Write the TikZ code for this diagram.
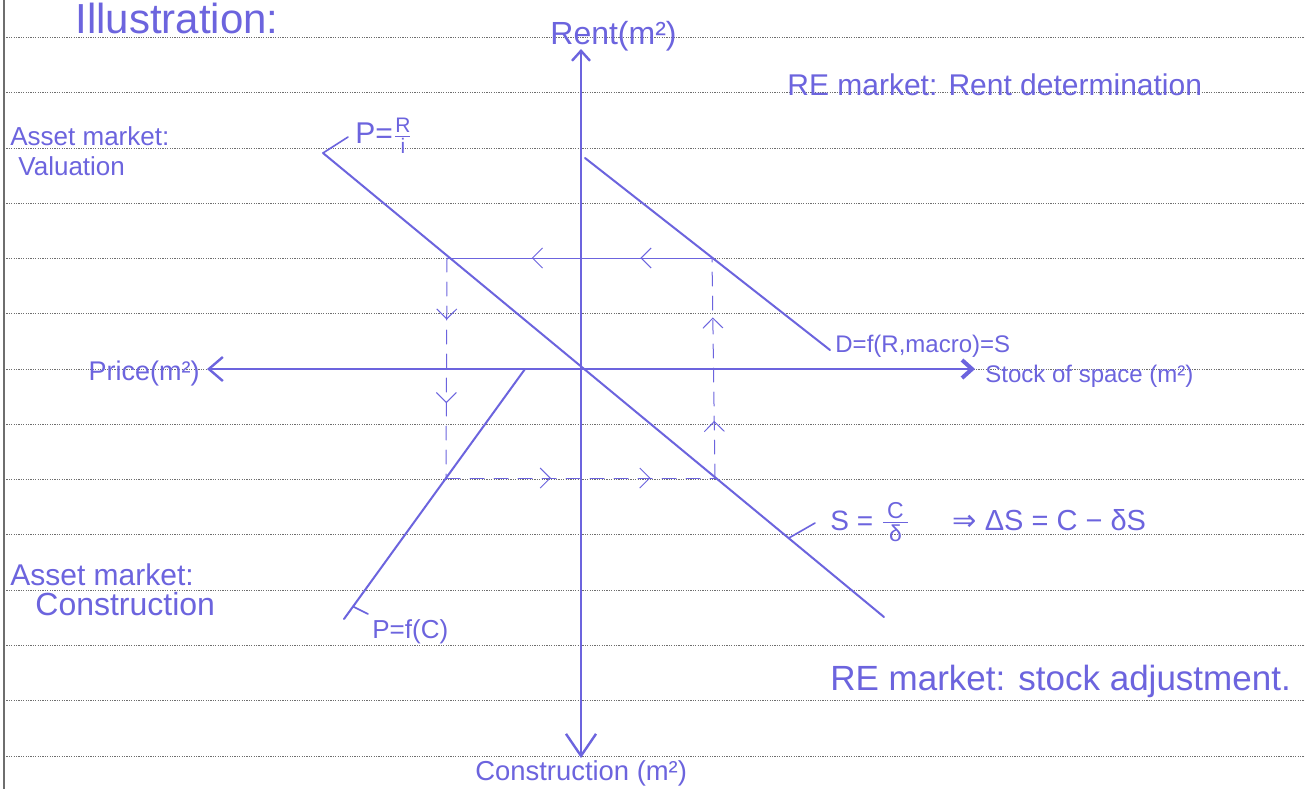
\documentclass[tikz,border=0pt]{standalone}
\usepackage{fontspec}
\usepackage{amsmath}
\setmainfont{Liberation Sans}
\newfontfamily\dejavu{DejaVu Sans}
\usetikzlibrary{arrows.meta,decorations.markings,calc}
\definecolor{ink}{RGB}{108,100,222}
\definecolor{ruled}{RGB}{110,110,110}
\begin{document}
\begin{tikzpicture}[x=0.5pt,y=-0.5pt,
  inkline/.style={draw=ink, line cap=round, line join=round},
  axisline/.style={inkline, line width=1.2pt},
  curveline/.style={inkline, line width=1pt},
  tickline/.style={inkline, line width=0.8pt},
  guidesolid/.style={inkline, line width=0.5pt},
  guidedash/.style={inkline, line width=0.5pt, dash pattern=on 7pt off 5pt},
  lbl/.style={text=ink, inner sep=0pt, anchor=base west},
  ruleline/.style={draw=ruled, line width=0.45pt, dash pattern=on 0.6pt off 0.6pt},
  smallbarb/.tip={Straight Barb[length=5pt,width=10pt]}
]
\useasboundingbox (0,0) rectangle (1305,789);
\fill[white] (0,0) rectangle (1305,789);
% ruled paper
\foreach \yy in {37,92,148,203,258,313,369,424,479,534,590,645,700,756}
  \draw[ruleline] (4,\yy) -- (1305,\yy);
\draw[ruled, line width=0.9pt] (4,0) -- (4,789);

% axes
\coordinate (O) at (581,369);
\coordinate (ytop) at (581,49);
\coordinate (ybot) at (581,758);
\coordinate (xleft) at (207,369);
\coordinate (xright) at (975,369);
\draw[axisline, {Straight Barb[length=11pt,width=15pt]}-{Straight Barb[length=5pt,width=9pt]}] (ybot) -- (ytop);
\draw[axisline, {Straight Barb[length=7pt,width=12pt]}-{Straight Barb[length=5pt,width=9pt,line width=2pt]}] (xleft) -- (xright);

% curves
\coordinate (v1) at (323,153);
\coordinate (v2) at (884,617);
\coordinate (d1) at (585,158);
\coordinate (d2) at (830,350);
\coordinate (c1) at (525,369);
\coordinate (c2) at (344,619);
\draw[curveline] (v1) -- (v2);
\draw[curveline] (d1) -- (d2);
\draw[curveline] (c1) -- (c2);

% dashed cycle
\coordinate (TL) at (447,258);
\coordinate (TR) at (712,258);
\coordinate (BR) at (715,478);
\coordinate (BL) at (446,478);
\draw[guidesolid, postaction={decorate}, decoration={markings,
  mark=at position 0.27 with {\arrow{smallbarb}},
  mark=at position 0.68 with {\arrow{smallbarb}}}] (TR) -- (TL);
\draw[guidedash, postaction={decorate}, decoration={markings,
  mark=at position 0.28 with {\arrow{smallbarb}},
  mark=at position 0.66 with {\arrow{smallbarb}}}] (TL) -- (BL);
\draw[guidedash, postaction={decorate}, decoration={markings,
  mark=at position 0.39 with {\arrow{smallbarb}},
  mark=at position 0.76 with {\arrow{smallbarb}}}] (BL) -- (BR);
\draw[guidedash, postaction={decorate}, decoration={markings,
  mark=at position 0.26 with {\arrow{smallbarb}},
  mark=at position 0.73 with {\arrow{smallbarb}}}] (BR) -- (TR);

% labels
\node[lbl, font=\fontsize{21}{24}\selectfont] (illu) at (75,33) {Illustration:};
\node[lbl, font=\fontsize{16}{18}\selectfont] (rent) at (550,44) {Rent(m²)};
\node[lbl, font=\fontsize{15}{18}\selectfont] (rerent) at (787,95) {RE market: Rent determination};
\node[lbl, font=\fontsize{13}{15}\selectfont] (amv1) at (10,145) {Asset market:};
\node[lbl, font=\fontsize{13}{15}\selectfont] (amv2) at (18,175) {Valuation};
\node[text=ink, inner sep=0pt, anchor=west, font=\fontsize{15}{18}\selectfont] (pri) at (355,136) {P=$\frac{\text{R}}{\text{i}}$};
\node[text=ink, inner sep=0pt, anchor=base east, font=\fontsize{13.5}{16}\selectfont] (price) at (200,380) {Price(m²)};
\node[lbl, font=\fontsize{12}{14}\selectfont] (dem) at (835,352) {D=f(R,macro)=S};
\node[lbl, font=\fontsize{12}{14}\selectfont] (stock) at (985,382) {Stock of space (m²)};
\node[lbl, font=\fontsize{14}{16}\selectfont] (sc) at (830,530) {S = $\frac{\text{\fontsize{11.5}{13}\selectfont\,C\,}}{\text{\fontsize{11.5}{13}\selectfont δ}}$};
\node[lbl, font=\fontsize{14.5}{16}\selectfont] (dsc) at (952,530) {{\dejavu ⇒} ΔS = C − δS};
\node[lbl, font=\fontsize{15}{18}\selectfont] (amc1) at (10,585) {Asset market:};
\node[lbl, font=\fontsize{16}{18}\selectfont] (amc2) at (35,615) {Construction};
\node[lbl, font=\fontsize{13}{15}\selectfont] (pfc) at (372,638) {P=f(C)};
\node[lbl, font=\fontsize{17.5}{20}\selectfont] (restock) at (830,690) {RE market: stock adjustment.};
\node[lbl, font=\fontsize{13.7}{16}\selectfont] (constr) at (475,780) {Construction (m²)};

% label ticks
\coordinate (vtick) at (348,137);
\coordinate (sctick) at (815,523);
\coordinate (pctick) at (368,614);
\draw[tickline] (v1) -- (vtick);
\draw[tickline] ($(v1)!0.83!(v2)$) -- (sctick);
\draw[tickline] ($(c1)!0.95!(c2)$) -- (pctick);
\end{tikzpicture}
\end{document}
